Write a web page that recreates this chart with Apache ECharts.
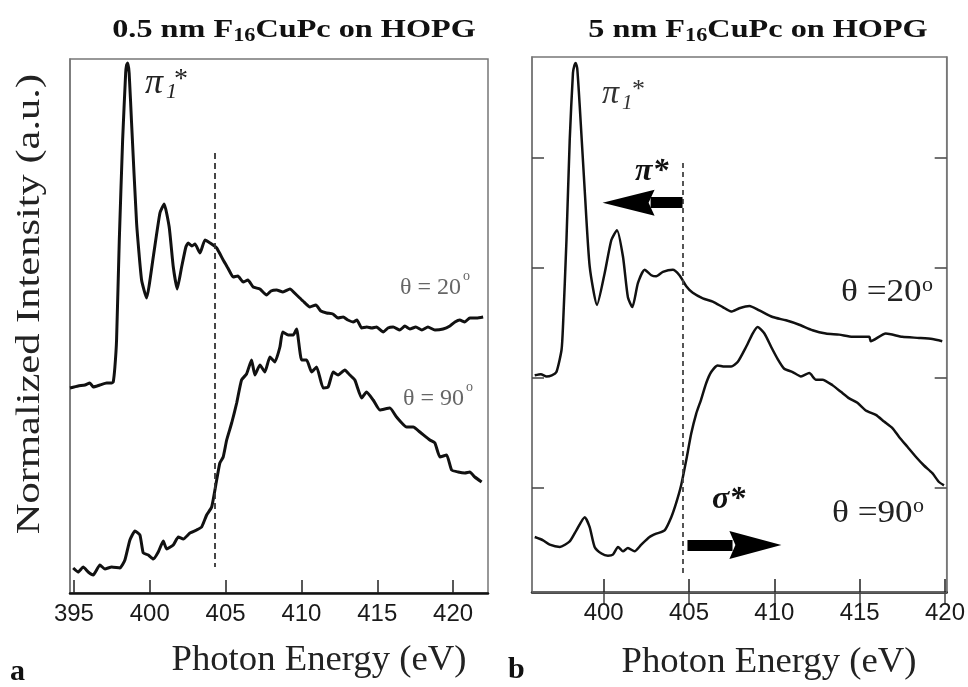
<!DOCTYPE html>
<html><head><meta charset="utf-8">
<script src="https://cdn.jsdelivr.net/npm/echarts@6/dist/echarts.min.js"></script>
<style>html,body{margin:0;padding:0;background:#fff}#c{width:968px;height:687px}</style>
</head><body><div id="c"></div>
<script>
// ---------- Panel a : 0.5 nm F16CuPc on HOPG ----------
const energyA20 = [394.74,395.28,395.73,396.05,396.27,396.71,397.16,397.49,397.59,397.70,397.81,397.99,398.21,398.41,398.47,398.54,398.64,398.80,399.13,399.46,399.79,400.23,400.67,400.95,401.28,401.55,401.81,402.10,402.38,402.53,402.78,402.98,403.31,403.64,403.97,404.41,404.84,405.15,405.50,405.81,406.16,406.47,406.82,407.26,407.70,407.99,408.36,408.78,409.24,409.68,410.10,410.56,410.95,411.28,411.66,412.07,412.40,412.75,413.06,413.41,413.66,413.97,414.31,414.64,414.95,415.39,415.70,416.05,416.49,416.82,417.15,417.54,417.94,418.34,418.80,419.34,419.79,420.12,420.44,420.77,421.10,421.56,421.98];
const intensityA20 = [2.05,2.07,2.08,2.10,2.06,2.08,2.10,2.10,2.11,2.26,2.53,3.53,4.53,5.20,5.28,5.30,5.20,4.70,3.70,3.13,2.95,3.36,3.80,3.89,3.66,3.26,3.04,3.26,3.46,3.50,3.47,3.49,3.40,3.53,3.50,3.45,3.33,3.25,3.16,3.17,3.11,3.13,3.06,3.04,2.98,3.02,3.03,3.01,3.04,2.98,2.92,2.86,2.88,2.82,2.80,2.79,2.75,2.76,2.73,2.71,2.73,2.65,2.66,2.65,2.66,2.61,2.65,2.66,2.63,2.67,2.64,2.66,2.63,2.66,2.63,2.64,2.67,2.71,2.73,2.71,2.75,2.75,2.76];
const energyA90 = [394.95,395.28,395.61,395.94,396.27,396.71,397.04,397.49,398.03,398.36,398.69,399.02,399.35,399.57,399.90,400.23,400.56,400.89,401.11,401.55,401.88,402.21,402.65,403.09,403.42,403.75,404.08,404.41,404.62,404.84,405.07,405.40,405.73,406.05,406.38,406.71,406.93,407.26,407.59,407.92,408.25,408.58,408.76,409.13,409.46,409.68,410.01,410.34,410.67,411.00,411.43,411.76,412.09,412.42,412.86,413.19,413.52,413.97,414.29,414.73,415.17,415.83,416.27,416.93,417.37,417.81,418.47,418.80,419.13,419.57,419.90,420.33,420.77,421.10,421.43,421.88];
const intensityA90 = [0.25,0.21,0.26,0.21,0.18,0.28,0.24,0.26,0.25,0.33,0.53,0.62,0.58,0.40,0.38,0.34,0.41,0.52,0.44,0.48,0.56,0.54,0.60,0.63,0.66,0.78,0.86,1.13,1.30,1.36,1.53,1.70,1.90,2.13,2.19,2.33,2.18,2.28,2.21,2.36,2.31,2.46,2.61,2.58,2.58,2.64,2.33,2.33,2.21,2.26,2.05,2.06,2.21,2.18,2.23,2.18,2.13,1.95,2.01,1.93,1.83,1.85,1.76,1.66,1.66,1.61,1.53,1.50,1.36,1.38,1.23,1.21,1.20,1.21,1.16,1.11];

// ---------- Panel b : 5 nm F16CuPc on HOPG ----------
const energyB20 = [395.96,396.32,396.65,396.96,397.23,397.53,397.62,397.82,398.01,398.20,398.29,398.36,398.45,398.60,398.89,399.18,399.61,400.06,400.45,400.78,401.13,401.42,401.68,402.01,402.40,402.79,403.08,403.47,404.05,404.44,404.84,405.22,405.81,406.39,406.98,407.47,407.95,408.54,409.12,409.90,410.68,411.46,412.24,413.02,413.80,414.58,415.56,415.65,416.53,417.50,418.48,419.26,419.84];
const intensityB20 = [1.97,1.98,1.96,1.97,2.00,2.20,2.43,3.20,4.11,4.72,4.79,4.81,4.76,4.41,3.65,2.96,2.61,2.90,3.20,3.29,3.05,2.68,2.59,2.81,2.93,2.88,2.87,2.91,2.93,2.88,2.78,2.72,2.67,2.64,2.59,2.55,2.58,2.60,2.56,2.50,2.47,2.43,2.38,2.35,2.34,2.32,2.32,2.28,2.35,2.32,2.31,2.30,2.28];
const energyB90 = [395.96,396.45,396.84,397.43,398.01,398.40,398.89,399.18,399.47,399.87,400.25,400.54,400.84,401.13,401.42,401.81,402.20,402.69,403.08,403.57,403.96,404.25,404.54,404.84,405.13,405.42,405.71,406.01,406.30,406.68,407.08,407.47,407.85,408.35,408.73,409.02,409.42,409.81,410.19,410.58,411.07,411.56,412.05,412.44,412.82,413.41,413.90,414.39,414.87,415.36,415.95,416.43,416.92,417.31,417.80,418.29,418.77,419.26,419.65,419.94];
const intensityB90 = [0.50,0.47,0.43,0.41,0.46,0.56,0.68,0.59,0.41,0.35,0.33,0.34,0.41,0.37,0.40,0.37,0.43,0.50,0.53,0.56,0.68,0.81,0.97,1.20,1.44,1.62,1.75,1.90,2.00,2.06,2.05,2.05,2.09,2.23,2.35,2.41,2.35,2.23,2.12,2.03,2.00,1.96,1.99,1.93,1.93,1.88,1.82,1.76,1.72,1.65,1.61,1.55,1.49,1.41,1.32,1.23,1.15,1.08,1.00,0.97];

// tick labels
const ticksA = [395,400,405,410,415,420];
const ticksB = [400,405,410,415,420];
const yTicksB = [0.95,1.95,2.95,3.95];

// annotation anchors (data units)
const dashA = 404.3, dashB = 404.64;

const zip = (xs, ys) => xs.map((x, i) => [x, ys[i]]);
const chart = echarts.init(document.getElementById('c'), null, {renderer: 'canvas'});

const serif = "'Liberation Serif','Times New Roman',serif";
const sans = "'Liberation Sans Narrow','Liberation Sans',Arial,sans-serif";

function txt(x, y, text, size, opt) {
  opt = opt || {};
  return {
    type: 'text', x: x, y: y, rotation: opt.rotation || 0,
    scaleX: opt.sx || 1, scaleY: opt.sy || 1,
    style: {
      text: text, font: (opt.style || '') + ' ' + (opt.weight || 'normal') + ' ' + size + 'px ' + serif,
      fill: opt.color || '#111', align: opt.align || 'left', verticalAlign: opt.va || 'middle',
      rich: opt.rich
    }, z: 50
  };
}

const headLeft = 'path://M0,13 L52,0 L46,13 L52,26 Z';
const headRight = 'path://M52,13 L0,0 L6,13 L0,26 Z';

const axisBottom = (gi, min, max, ticks) => ({
  type: 'value', gridIndex: gi, min: min, max: max, position: 'bottom',
  axisLine: {show: true, lineStyle: {color: '#111', width: 2.5}},
  axisTick: {show: true, inside: true, length: 13, customValues: ticks, lineStyle: {color: '#222', width: 1.5}},
  axisLabel: {show: true, customValues: ticks, margin: 9, fontFamily: sans, fontSize: 24, color: '#1a1a1a'},
  splitLine: {show: false}
});

const richTitle = {
  t: {fontFamily: serif, fontWeight: 'bold', fontSize: 26, color: '#111'},
  s: {fontFamily: serif, fontWeight: 'bold', fontSize: 18, color: '#111', padding: [12, 0, 0, 0]}
};

const option = {
  backgroundColor: '#fff',
  animation: false,
  grid: [
    {left: 70, top: 59, width: 418, height: 534, show: true, borderColor: '#777', borderWidth: 1.5},
    {left: 532, top: 57, width: 416, height: 535, show: true, borderColor: '#777', borderWidth: 1.5}
  ],
  xAxis: [
    axisBottom(0, 394.74, 422.3, ticksA),
    axisBottom(1, 395.8, 420.1, ticksB),
    {type: 'value', gridIndex: 1, min: 395.8, max: 420.1, position: 'top',
     axisLine: {show: true, lineStyle: {color: '#777', width: 1.5}},
     axisTick: {show: true, inside: true, length: 12, customValues: ticksB, lineStyle: {color: '#444', width: 1.5}},
     axisLabel: {show: false}, splitLine: {show: false}}
  ],
  yAxis: [
    {type: 'value', gridIndex: 0, min: 0, max: 5.34, axisLine: {show: true, lineStyle: {color: '#777', width: 1.5}},
     axisTick: {show: false}, axisLabel: {show: false}, splitLine: {show: false}},
    {type: 'value', gridIndex: 1, min: 0, max: 4.864, position: 'left',
     axisLine: {show: true, lineStyle: {color: '#777', width: 1.5}},
     axisTick: {show: true, inside: true, length: 12, customValues: yTicksB, lineStyle: {color: '#444', width: 1.5}},
     axisLabel: {show: false}, splitLine: {show: false}},
    {type: 'value', gridIndex: 1, min: 0, max: 4.864, position: 'right',
     axisLine: {show: true, lineStyle: {color: '#777', width: 1.5}},
     axisTick: {show: true, inside: true, length: 12, customValues: yTicksB, lineStyle: {color: '#444', width: 1.5}},
     axisLabel: {show: false}, splitLine: {show: false}}
  ],
  series: [
    {type: 'line', xAxisIndex: 0, yAxisIndex: 0, data: zip(energyA20, intensityA20), showSymbol: false,
     lineStyle: {color: '#111', width: 3}, smooth: 0.15, silent: true,
     markLine: {silent: true, symbol: ['none', 'none'], label: {show: false},
       lineStyle: {color: '#333', width: 1.8, type: [6, 4]},
       data: [[{coord: [dashA, 4.40]}, {coord: [dashA, 0.26]}]]}},
    {type: 'line', xAxisIndex: 0, yAxisIndex: 0, data: zip(energyA90, intensityA90), showSymbol: false,
     lineStyle: {color: '#111', width: 3}, smooth: 0.15, silent: true},
    {type: 'line', xAxisIndex: 1, yAxisIndex: 1, data: zip(energyB20, intensityB20), showSymbol: false,
     lineStyle: {color: '#111', width: 2.5}, smooth: 0.2, silent: true,
     markLine: {silent: true, symbol: ['none', 'none'], label: {show: false},
       data: [
         [{coord: [dashB, 3.90], lineStyle: {color: '#444', width: 1.8, type: [5, 4]}}, {coord: [dashB, 0.14]}],
         [{coord: [404.62, 3.54], lineStyle: {color: '#000', width: 11, type: 'solid'}}, {coord: [402.75, 3.54]}],
         [{coord: [404.91, 0.427], lineStyle: {color: '#000', width: 11, type: 'solid'}}, {coord: [407.55, 0.427]}]
       ]},
     markPoint: {silent: true, label: {show: false},
       data: [
         {coord: [401.46, 3.54], symbol: headLeft, symbolSize: [52, 26], itemStyle: {color: '#000'}},
         {coord: [408.89, 0.427], symbol: headRight, symbolSize: [52, 28], itemStyle: {color: '#000'}}
       ]}},
    {type: 'line', xAxisIndex: 1, yAxisIndex: 1, data: zip(energyB90, intensityB90), showSymbol: false,
     lineStyle: {color: '#111', width: 2.5}, smooth: 0.2, silent: true}
  ],
  graphic: [
    // titles
    txt(294, 30, '{t|0.5 nm F}{s|16}{t|CuPc on HOPG}', 26, {align: 'center', sx: 1.24, rich: richTitle}),
    txt(758, 30, '{t|5 nm F}{s|16}{t|CuPc on HOPG}', 26, {align: 'center', sx: 1.24, rich: richTitle}),
    // y axis title
    txt(30, 304, 'Normalized Intensity (a.u.)', 34, {align: 'center', rotation: Math.PI / 2, color: '#222', sx: 1.25}),
    // x axis titles
    txt(319, 661, 'Photon Energy (eV)', 36, {align: 'center', color: '#222', sx: 1.02}),
    txt(769, 663, 'Photon Energy (eV)', 36, {align: 'center', color: '#222', sx: 1.02}),
    // panel letters
    txt(10, 672, 'a', 30, {weight: 'bold', color: '#111'}),
    txt(508, 670, 'b', 30, {weight: 'bold', color: '#111'}),
    // pi1* panel a
    txt(145, 84, 'π', 36, {style: 'italic', color: '#222'}),
    txt(166, 92, '1', 22, {style: 'italic', color: '#222'}),
    txt(174, 80, '*', 28, {color: '#222'}),
    // pi1* panel b
    txt(602, 94, 'π', 34, {style: 'italic', color: '#333'}),
    txt(622, 103, '1', 21, {style: 'italic', color: '#333'}),
    txt(632, 90, '*', 26, {color: '#333'}),
    // pi* and sigma*
    txt(635, 172, 'π*', 32, {style: 'italic', weight: 'bold', color: '#111'}),
    txt(712, 500, 'σ*', 32, {style: 'italic', weight: 'bold', color: '#111'}),
    // theta labels panel a
    txt(400, 288, 'θ = 20', 24, {color: '#666'}),
    txt(463, 276, 'o', 14, {color: '#666'}),
    txt(403, 399, 'θ = 90', 24, {color: '#666'}),
    txt(466, 387, 'o', 14, {color: '#666'}),
    // theta labels panel b
    txt(841, 293, 'θ =20', 32, {color: '#222', sx: 1.1}),
    txt(922, 285, 'o', 22, {color: '#222'}),
    txt(832, 514, 'θ =90', 32, {color: '#222', sx: 1.1}),
    txt(913, 506, 'o', 22, {color: '#222'})
  ]
};
chart.setOption(option);
</script>
</body></html>
